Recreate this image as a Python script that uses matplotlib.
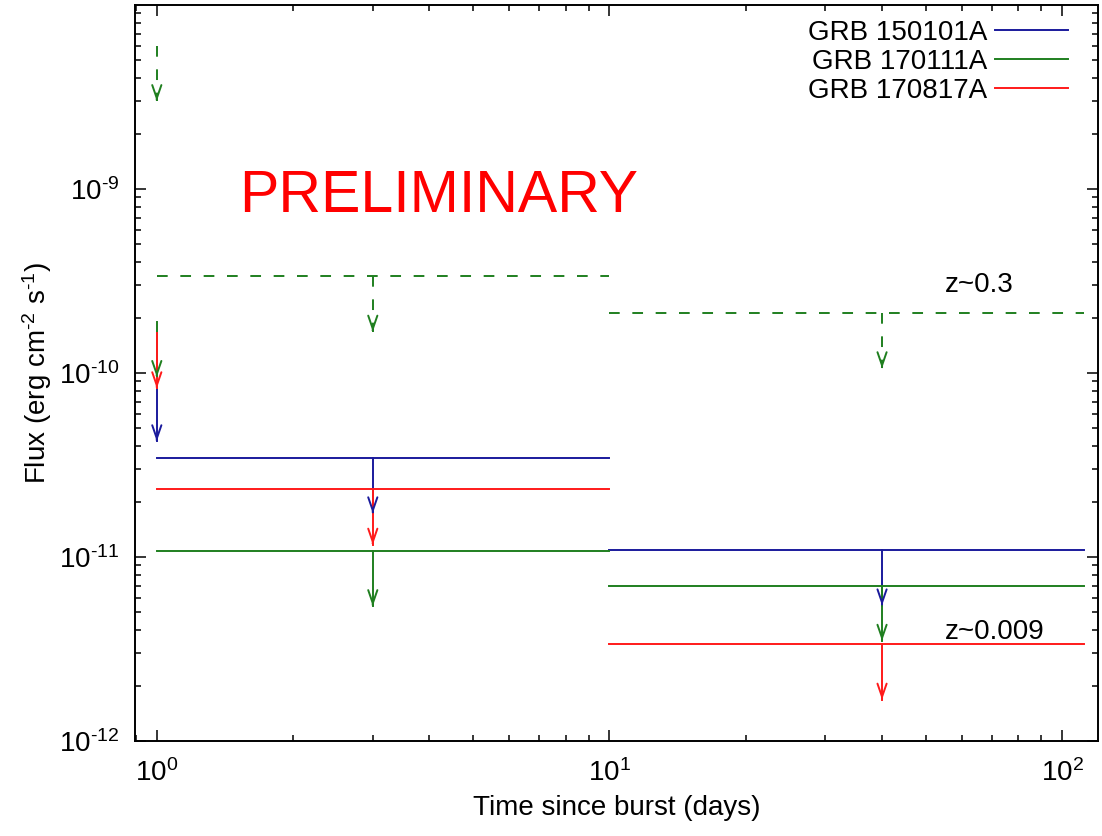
import matplotlib
matplotlib.use("Agg")
import math
import matplotlib.pyplot as plt
from matplotlib.ticker import FixedLocator, LogLocator, FuncFormatter, NullFormatter

plt.rcParams['font.family'] = ['Liberation Sans', 'DejaVu Sans']
plt.rcParams['mathtext.fontset'] = 'custom'
plt.rcParams['mathtext.rm'] = 'Liberation Sans'
plt.rcParams['mathtext.default'] = 'regular'
plt.rcParams['axes.unicode_minus'] = False

# ---- data ----
grb_names = ['GRB 150101A', 'GRB 170111A', 'GRB 170817A']
grb_colors = ['#1a1a9c', '#1f7f1f', '#ff1a1a']

day1_time = 1.0
bin_times = [3.0, 40.0]
bin_lo = [1.0, 10.0]
bin_hi = [10.0, 112.0]

day1_flux = [8.5e-11, 1.9e-10, 1.65e-10]          # blue, green, red
bin_flux = [[3.45e-11, 1.09e-11],                 # GRB 150101A
            [1.08e-11, 7.0e-12],                  # GRB 170111A
            [2.33e-11, 3.35e-12]]                 # GRB 170817A

# GRB 170111A scaled to z~0.3 (dashed)
z03_day1_flux = 6.0e-9
z03_bin_flux = [3.35e-10, 2.12e-10]

x_major = [1, 10, 100]
y_major = [1e-12, 1e-11, 1e-10, 1e-9]

arrow_factor = 0.5

lw = 1.4
fig = plt.figure(figsize=(11.02, 8.36), dpi=100)
ax = fig.add_axes([0.1225, 0.1136, 0.8739, 0.8804])
ax.set_xscale('log')
ax.set_yscale('log')
ax.set_xlim(0.895, 120)
ax.set_ylim(1e-12, 1e-8)

dash = (0, (5.5, 6.5))


def uplim(x, y, color, ls='-'):
    ax.plot([x, x], [y, y * arrow_factor], color=color, lw=lw, linestyle=ls)
    ax.annotate('', xy=(x, y * arrow_factor), xytext=(x, y * arrow_factor * 1.02),
                arrowprops=dict(arrowstyle='->,head_length=0.95,head_width=0.33',
                                color=color, lw=lw, shrinkA=0, shrinkB=0,
                                mutation_scale=10))


for i, (name, col) in enumerate(zip(grb_names, grb_colors)):
    for t, lo, hi, f in zip(bin_times, bin_lo, bin_hi, bin_flux[i]):
        ax.plot([lo, hi], [f, f], color=col, lw=lw)
        uplim(t, f, col)
    uplim(day1_time, day1_flux[i], col)
    if i == 1:
        # dashed z~0.3 version
        for t, lo, hi, f in zip(bin_times, bin_lo, bin_hi, z03_bin_flux):
            ax.plot([lo, hi], [f, f], color=col, lw=lw, linestyle=dash)
            uplim(t, f, col, ls=dash)
        uplim(day1_time, z03_day1_flux, col, ls=dash)

fs = 20
# legend (gnuplot style: right-aligned text, sample line on the right)
leg_y = [0.966, 0.9266, 0.8872]
for name, col, yy in zip(grb_names, grb_colors, leg_y):
    ax.text(0.8847, yy, name, transform=ax.transAxes, fontsize=fs,
            ha='right', va='center_baseline')
    ax.plot([0.893, 0.969], [yy, yy], transform=ax.transAxes, color=col, lw=lw,
            clip_on=False)

ax.text(55, 3.0e-10, 'z~0.3', fontsize=fs, va='center', ha='left')
ax.text(55, 3.9e-12, 'z~0.009', fontsize=fs, va='center', ha='left')
ax.text(1.52, 7.5e-10, 'PRELIMINARY', fontsize=42.5, color='#ff0000', va='baseline', ha='left')

ax.set_xlabel('Time since burst (days)', fontsize=fs, labelpad=6)
ax.set_ylabel(r'Flux (erg cm$^{\text{-2}}$ s$^{\text{-1}}$)', fontsize=fs, labelpad=4)


def pow10(v, pos):
    e = int(round(math.log10(v)))
    return r'$10^{\text{%d}}$' % e


ax.xaxis.set_major_locator(FixedLocator(x_major))
ax.yaxis.set_major_locator(FixedLocator(y_major))
for a in (ax.xaxis, ax.yaxis):
    a.set_minor_locator(LogLocator(base=10, subs=range(2, 10), numticks=20))
    a.set_major_formatter(FuncFormatter(pow10))
    a.set_minor_formatter(NullFormatter())

ax.tick_params(which='both', direction='in', top=True, right=True, labelsize=fs)
ax.tick_params(which='major', length=8, width=1.1)
ax.tick_params(which='minor', length=4.5, width=1.1)
ax.tick_params(axis='x', which='major', pad=13)
ax.tick_params(axis='y', which='major', pad=11)
for s in ax.spines.values():
    s.set_linewidth(1.4)

fig.savefig('out.png', dpi=100)
